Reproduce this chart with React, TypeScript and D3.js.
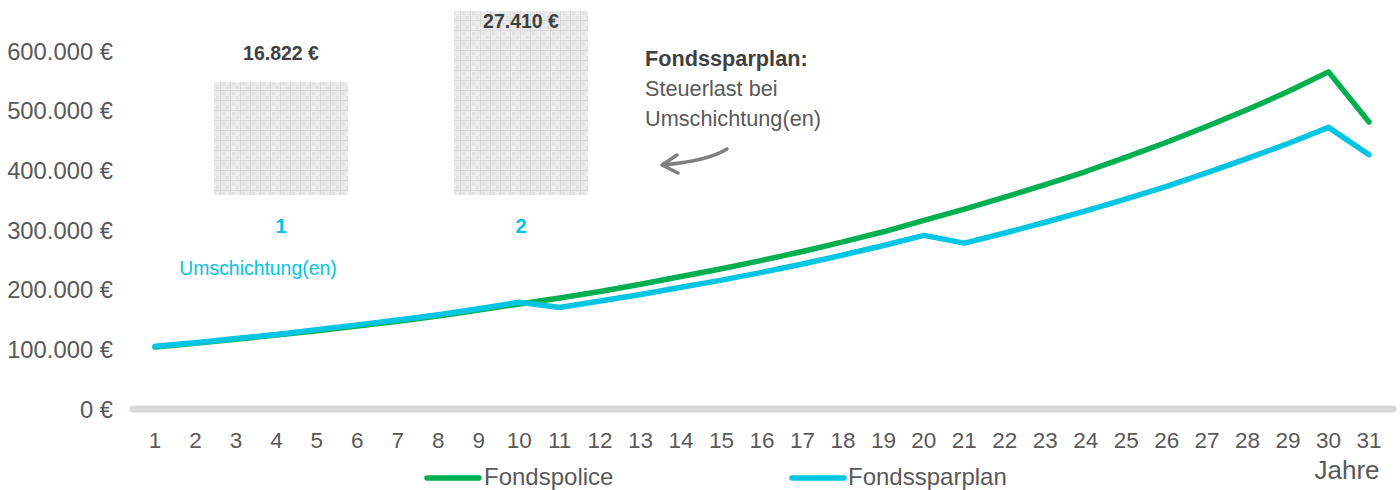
import React from "react";
import * as d3 from "d3";

const years = d3.range(1, 32).map(String);
const fondspolice = [104000, 110000, 117000, 124000, 131000, 139000, 147000, 156000, 166000, 176000, 186000, 197000, 209000, 222000, 235000, 249000, 264000, 280000, 297000, 316000, 335000, 355000, 376000, 398000, 422000, 447000, 474000, 502000, 532000, 565000, 481000];
const fondssparplan = [105000, 111000, 118000, 125000, 133000, 141000, 149000, 158000, 168000, 179000, 170000, 181000, 192000, 204000, 216000, 229000, 243000, 258000, 274000, 291000, 278000, 295000, 313000, 332000, 352000, 373000, 396000, 420000, 445000, 472000, 426000];
const yTicks = [0, 100000, 200000, 300000, 400000, 500000, 600000];
const barCategories = ["1", "2"];
const barValues = [16822, 27410];
const seriesNames = ["Fondspolice", "Fondssparplan"];
const colors = ["#00B050", "#00C5E3"];

const fmt = (v: number) => d3.format(",")(v).replace(/,/g, ".") + " €";

export default function App() {
  const W = 1400, H = 490;
  const x = d3.scalePoint<string>().domain(years).range([155, 1369]);
  const y = d3.scaleLinear().domain([0, 600000]).range([409, 51]);
  const xb = d3.scaleBand<string>().domain(barCategories).range([161, 641]).paddingInner(0.4417).paddingOuter(0.2208);
  const yb = d3.scaleLinear().domain([0, 27410]).range([195, 11]);
  const line = d3.line<number>().x((_, i) => x(years[i])!).y((d) => y(d));
  const font = '"Liberation Sans", Arimo, Arial, Helvetica, sans-serif';
  const grey = "#595959";
  return (
    <svg width={W} height={H} style={{ position: "absolute", left: 0, top: 0, fontFamily: font }}>
      <defs>
        <pattern id="grid" width="10" height="10" patternUnits="userSpaceOnUse">
          <rect width="10" height="10" fill="#ebebeb" />
          <rect x="2" y="2" width="3" height="3" fill="#e2e2e2" />
          <rect x="6" y="6" width="3" height="3" fill="#e2e2e2" />
          <rect width="10" height="1" fill="#d8d8d8" />
          <rect width="1" height="10" fill="#d8d8d8" />
        </pattern>
      </defs>
      <rect width={W} height={H} fill="#fff" />
      {/* bars */}
      {barValues.map((v, i) => (
        <g key={i}>
          <rect x={xb(barCategories[i])} y={yb(v)} width={xb.bandwidth()} height={yb(0) - yb(v)} fill="url(#grid)" />
          <text x={xb(barCategories[i])! + xb.bandwidth() / 2} y={yb(v) - (i === 0 ? 29 : -10)} textAnchor="middle" dominantBaseline="central" fontWeight="bold" fontSize={19.5} fill="#404040" style={{ fontFamily: font }}>{fmt(v)}</text>
          <text x={xb(barCategories[i])! + xb.bandwidth() / 2} y={226} textAnchor="middle" dominantBaseline="central" fontWeight="bold" fontSize={20} fill={colors[1]} style={{ fontFamily: font }}>{barCategories[i]}</text>
        </g>
      ))}
      <text x={258} y={268} textAnchor="middle" dominantBaseline="central" fontSize={19.4} fill={colors[1]} style={{ fontFamily: font }}>Umschichtung(en)</text>
      {/* annotation */}
      <text x={645} y={58} dominantBaseline="central" fontWeight="bold" fontSize={21.7} fill="#404040" style={{ fontFamily: font }}>Fondssparplan:</text>
      <text x={645} y={88} dominantBaseline="central" fontSize={21.7} fill={grey} style={{ fontFamily: font }}>Steuerlast bei</text>
      <text x={645} y={118} dominantBaseline="central" fontSize={21.7} fill={grey} style={{ fontFamily: font }}>Umschichtung(en)</text>
      <path d="M727,149 Q708,161 662,165 M662,165 L677,155 M662,165 L678,173" fill="none" stroke="#7f7f7f" strokeWidth={3.5} strokeLinecap="round" />
      {/* y labels */}
      {yTicks.map((t) => (
        <text key={t} x={113} y={y(t)} textAnchor="end" dominantBaseline="central" fontSize={23.8} fill={grey} style={{ fontFamily: font }}>{fmt(t)}</text>
      ))}
      {/* axis */}
      <line x1={133} x2={1393} y1={y(0)} y2={y(0)} stroke="#d9d9d9" strokeWidth={7} strokeLinecap="round" />
      {years.map((yr) => (
        <text key={yr} x={x(yr)} y={440} textAnchor="middle" dominantBaseline="central" fontSize={22.5} fill={grey} style={{ fontFamily: font }}>{yr}</text>
      ))}
      <text x={1347} y={470} textAnchor="middle" dominantBaseline="central" fontSize={26} fill={grey} style={{ fontFamily: font }}>Jahre</text>
      {/* lines */}
      <path d={line(fondspolice)!} fill="none" stroke={colors[0]} strokeWidth={5.5} strokeLinejoin="round" strokeLinecap="round" />
      <path d={line(fondssparplan)!} fill="none" stroke={colors[1]} strokeWidth={5.5} strokeLinejoin="round" strokeLinecap="round" />
      {/* legend */}
      {seriesNames.map((s, i) => (
        <g key={s}>
          <line x1={[427, 792][i]} x2={[479, 844][i]} y1={478} y2={478} stroke={colors[i]} strokeWidth={5.5} strokeLinecap="round" />
          <text x={[484, 848][i]} y={476} dominantBaseline="central" fontSize={24} fill={grey} style={{ fontFamily: font }}>{s}</text>
        </g>
      ))}
    </svg>
  );
}
